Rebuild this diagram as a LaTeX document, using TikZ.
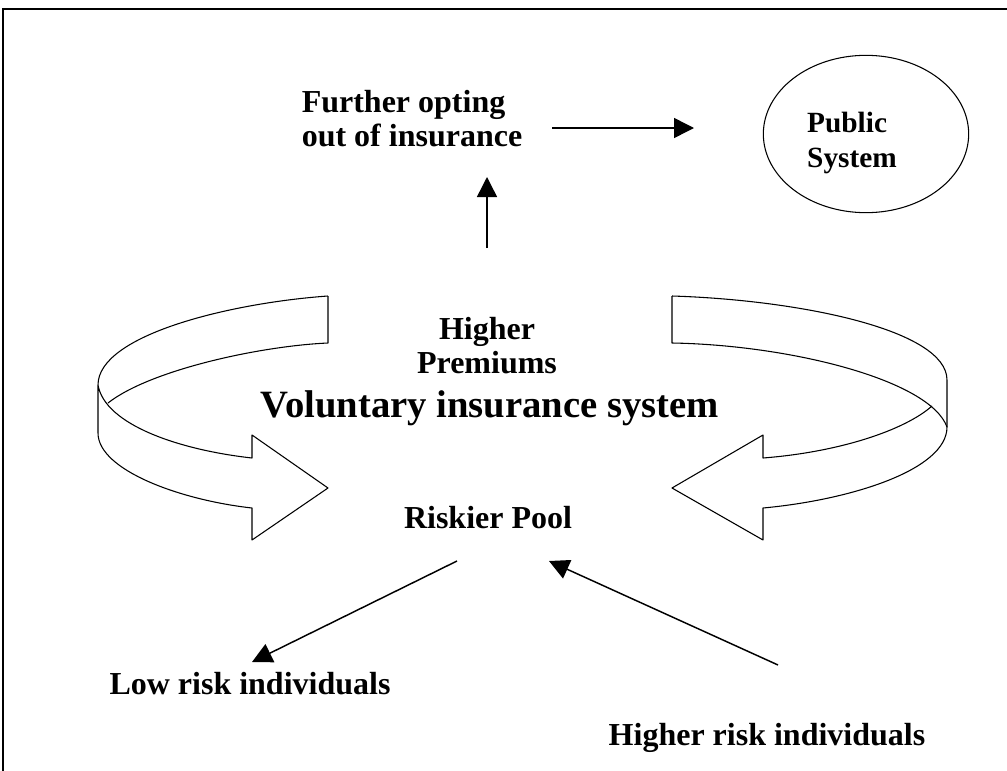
\documentclass[tikz,border=0pt]{standalone}
\usepackage{fontspec}
\setmainfont{Liberation Serif}
\usetikzlibrary{arrows.meta,shapes.geometric}

\tikzset{
  lbl/.style={font=\bfseries\fontsize{24}{25.5}\selectfont,inner sep=0pt},
  arr/.style={line width=1.1pt,-{Triangle[length=15pt,width=15pt]}},
  ribbon/.style={line width=0.8pt,line join=round,fill=white}
}

\begin{document}
\begin{tikzpicture}[x=0.75pt,y=-0.75pt]
\useasboundingbox (0,0) rectangle (1007,771);
\clip (0,0) rectangle (1007,771);
\draw [line width=0.9pt] (3,800) -- (3,9) -- (1030,9);

% labels
\node [lbl,align=left] (further) at (412,119) {Further opting\\out of insurance};
\node [draw,ellipse,line width=0.8pt,inner sep=0pt,
       minimum width=154pt,minimum height=118pt] (pubell) at (866,134) {};
\node [lbl,align=left,font=\bfseries\fontsize{22}{26}\selectfont] (public) at (852,143) {Public\\System};
\node [lbl,align=center] (prem) at (487,346) {Higher\\Premiums};
\node [lbl,font=\bfseries\fontsize{29}{32}\selectfont] (vol) at (490,408) {Voluntary insurance system};
\node [lbl] (pool) at (488,518) {Riskier Pool};
\node [lbl] (low) at (250,684) {Low risk individuals};
\node [lbl] (high) at (767,738) {Higher risk individuals};

% arrow ends
\coordinate (upA) at (487,248);
\coordinate (upB) at (487,177);
\coordinate (rtA) at (552,128);
\coordinate (rtB) at (694,128);
\coordinate (lwA) at (457,561);
\coordinate (lwB) at (252,662);
\coordinate (hiA) at (778,665);
\coordinate (hiB) at (549,561);

\draw [arr] (upA) -- (upB);
\draw [arr] (rtA) -- (rtB);
\draw [arr] (lwA) -- (lwB);
\draw [arr] (hiA) -- (hiB);

% left curved arrow
\draw [ribbon] (328,296) .. controls (230,303) and (98,335) .. (98,385)
  -- (98,433) .. controls (98,470) and (180,500) .. (252,508)
  -- (252,540) -- (328,488) -- (252,435) -- (252,458)
  .. controls (180,450) and (105,425) .. (98,385);
\draw [ribbon,fill=none] (328,296) -- (328,343) .. controls (260,346) and (150,370) .. (108,403);

% right curved arrow
\draw [ribbon] (672,296) .. controls (800,300) and (947,330) .. (947,380)
  -- (947,427) .. controls (947,470) and (850,500) .. (763,508)
  -- (763,540) -- (672,488) -- (763,435) -- (763,458)
  .. controls (840,452) and (905,430) .. (932,406);
\draw [ribbon,fill=none] (672,296) -- (672,343) .. controls (790,345) and (930,380) .. (947,427);
\end{tikzpicture}
\end{document}
